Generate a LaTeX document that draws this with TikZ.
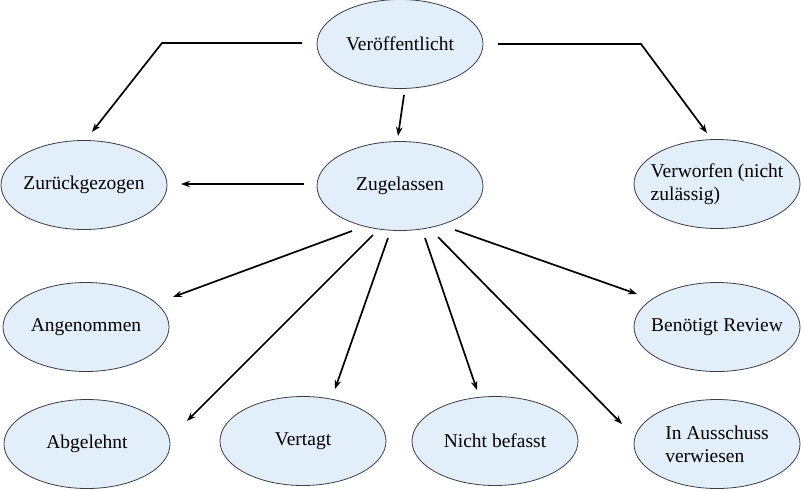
\documentclass[tikz,border=0pt]{standalone}
\usepackage{fontspec}
\setmainfont{Liberation Serif}
\usetikzlibrary{shapes.geometric,arrows.meta}
\definecolor{ellfill}{RGB}{226,239,250}
\definecolor{ellline}{RGB}{60,60,70}
\begin{document}
\begin{tikzpicture}[x=1pt,y=-1pt,
  state/.style={ellipse,draw=ellline,line width=0.8pt,fill=ellfill,minimum width=166pt,minimum height=89pt,inner xsep=-22pt,inner ysep=0pt,font=\fontsize{19.5}{23}\selectfont,align=left},
  arr/.style={line width=1.7pt,-{Stealth[length=9pt,width=6.5pt]}}]
\useasboundingbox (0,0) rectangle (805,491);
\node[state] (ver) at (400,44) {Veröffentlicht};
\node[state] (zug) at (400,186) {Zugelassen};
\node[state] (zur) at (84,185) {Zurückgezogen};
\node[state] (verw) at (717,184) {Verworfen (nicht\\zulässig)};
\node[state] (ang) at (86,327) {Angenommen};
\node[state] (ben) at (717,327) {Benötigt Review};
\node[state] (abg) at (87,444) {Abgelehnt};
\node[state] (vert) at (303,441) {Vertagt};
\node[state] (nich) at (495,441) {Nicht befasst};
\node[state] (aus) at (717,444) {In Ausschuss\\verwiesen};
% free ends
\coordinate (vL) at (302,43);
\coordinate (vLk) at (162,43);
\coordinate (zurT) at (92,132);
\coordinate (vR) at (498,44);
\coordinate (vRk) at (641,44);
\coordinate (verwT) at (707,133);
\coordinate (vB) at (404,95);
\coordinate (zugT) at (398,136);
\coordinate (zugL) at (304,184);
\coordinate (zurR) at (181,184);
\coordinate (z1) at (352,231);
\coordinate (angT) at (173,297);
\coordinate (z2) at (373,235);
\coordinate (abgT) at (187,421);
\coordinate (z3) at (388,238);
\coordinate (vertT) at (335,389);
\coordinate (z4) at (425,238);
\coordinate (nichT) at (477,390);
\coordinate (z5) at (438,237);
\coordinate (ausT) at (622,424);
\coordinate (z6) at (455,230);
\coordinate (benT) at (637,294);
\draw[arr] (vL) -- (vLk) -- (zurT);
\draw[arr] (vR) -- (vRk) -- (verwT);
\draw[arr] (vB) -- (zugT);
\draw[arr] (zugL) -- (zurR);
\draw[arr] (z1) -- (angT);
\draw[arr] (z2) -- (abgT);
\draw[arr] (z3) -- (vertT);
\draw[arr] (z4) -- (nichT);
\draw[arr] (z5) -- (ausT);
\draw[arr] (z6) -- (benT);
\end{tikzpicture}
\end{document}
